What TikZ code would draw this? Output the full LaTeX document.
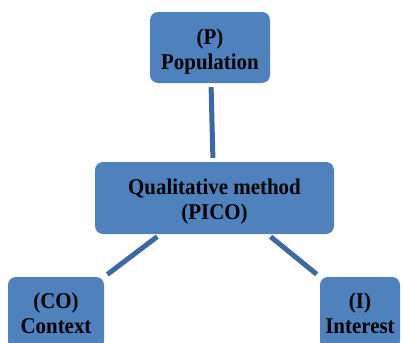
\documentclass[tikz,border=0pt]{standalone}
\usepackage{fontspec}
\setmainfont{Liberation Serif}[FakeStretch=0.93]
\usepackage{tikz}
\usetikzlibrary{positioning, calc}
\definecolor{boxblue}{RGB}{79, 129, 189}
\definecolor{linkblue}{RGB}{62, 104, 160}
\tikzset{
  picobox/.style={rectangle, rounded corners=8pt, fill=boxblue, draw=none, inner sep=0pt},
  picotext/.style={align=center, text=black, inner sep=0pt, font=\fontsize{22.5}{25}\selectfont\bfseries},
  link/.style={linkblue, line width=5pt, shorten <=4pt, shorten >=4pt}
}
\begin{document}
\begin{tikzpicture}[x=1pt, y=-1pt]
    \useasboundingbox (0,0) rectangle (402,343);

    % 1. Cajas
    \node[picobox, minimum width=120pt, minimum height=71pt] (pop) at (210, 47.5) {};
    \node[picobox, minimum width=239pt, minimum height=72pt] (qual) at (214.5, 198) {};
    \node[picobox, minimum width=96pt, minimum height=72pt] (ctx) at (56, 313) {};
    \node[picobox, minimum width=80pt, minimum height=72pt] (intr) at (360, 313) {};

    % Textos de las cajas
    \node[picotext] (pop-text) at ([yshift=-4.5pt]pop.center) {(P)\\Population};
    \node[picotext] (qual-text) at ([yshift=-4pt]qual.center) {Qualitative method\\(PICO)};
    \node[picotext] (ctx-text) at (ctx.center) {(CO)\\Context};
    \node[picotext] (intr-text) at (intr.center) {(I)\\Interest};

    % 2. Conexiones
    \draw[link] ([xshift=1pt]pop.south) -- ([xshift=-1.5pt]qual.north);
    \draw[link] ([xshift=-54pt]qual.south) -- (ctx.north east);
    \draw[link] ([xshift=53pt]qual.south) -- (intr.north west);

\end{tikzpicture}
\end{document}
